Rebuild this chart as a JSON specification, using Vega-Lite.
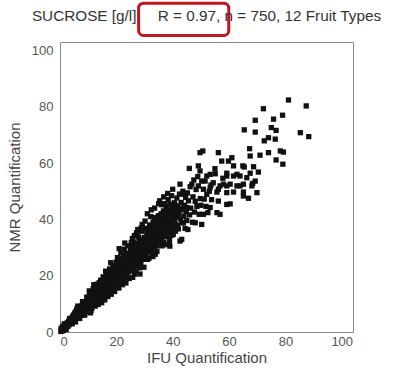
{
  "$schema": "https://vega.github.io/schema/vega-lite/v6.json",
  "autosize": "none",
  "width": 293,
  "height": 290,
  "padding": {"left": 60, "top": 42, "right": 51, "bottom": 44},
  "background": "white",
  "title": {
    "text": "SUCROSE [g/l]\u00a0\u00a0\u00a0\u00a0\u00a0R = 0.97, n = 750, 12 Fruit Types",
    "font": "Liberation Sans",
    "fontSize": 15.3,
    "fontWeight": "normal",
    "color": "#333333",
    "anchor": "middle",
    "baseline": "bottom",
    "offset": -38
  },
  "config": {
    "view": {"stroke": "#8a8a8a", "strokeWidth": 1},
    "axis": {
      "domain": false,
      "ticks": false,
      "grid": false,
      "labelFont": "Liberation Sans",
      "labelFontSize": 13,
      "labelColor": "#555555",
      "titleFont": "Liberation Sans",
      "titleFontSize": 15,
      "titleFontWeight": "normal",
      "titleColor": "#444444"
    }
  },
  "layer": [
    {
      "data": {"values": [
{"x":0.3,"y":0.2},{"x":0.5,"y":0.8},{"x":0.8,"y":0.4},{"x":1.0,"y":1.2},{"x":1.2,"y":0.6},{"x":1.4,"y":1.8},{"x":1.6,"y":1.0},{"x":1.8,"y":2.2},{"x":2.0,"y":1.5},{"x":2.1,"y":2.8},{"x":2.3,"y":1.9},{"x":2.5,"y":2.4},{"x":2.6,"y":3.3},{"x":2.8,"y":2.0},{"x":3.0,"y":3.0},{"x":3.1,"y":3.9},{"x":3.3,"y":2.6},{"x":3.5,"y":3.5},{"x":3.6,"y":4.4},{"x":3.8,"y":3.1},{"x":4.0,"y":4.0},{"x":4.1,"y":4.9},{"x":4.2,"y":3.4},{"x":4.4,"y":4.6},{"x":4.5,"y":5.6},{"x":4.6,"y":3.9},{"x":4.8,"y":5.0},{"x":4.9,"y":6.1},{"x":5.0,"y":4.3},{"x":0.9,"y":2.0},{"x":1.5,"y":2.9},{"x":2.2,"y":0.9},{"x":3.4,"y":4.8},{"x":4.3,"y":2.9},{"x":0.4,"y":1.3},
{"x":5.1,"y":5.4},{"x":5.2,"y":6.6},{"x":5.3,"y":4.5},{"x":5.4,"y":5.9},{"x":5.5,"y":7.2},{"x":5.6,"y":4.9},{"x":5.7,"y":6.3},{"x":5.8,"y":5.5},{"x":5.9,"y":7.6},{"x":6.0,"y":6.0},{"x":6.1,"y":5.1},{"x":6.2,"y":6.9},{"x":6.3,"y":8.0},{"x":6.4,"y":5.7},{"x":6.5,"y":6.5},{"x":6.6,"y":7.4},{"x":6.7,"y":5.3},{"x":6.8,"y":8.6},{"x":6.9,"y":6.2},{"x":7.0,"y":7.0},{"x":7.1,"y":7.9},{"x":7.2,"y":6.0},{"x":7.3,"y":8.4},{"x":7.4,"y":6.8},{"x":7.5,"y":9.1},{"x":7.6,"y":7.5},{"x":7.7,"y":5.9},{"x":7.8,"y":8.0},{"x":7.9,"y":9.5},{"x":8.0,"y":7.2},{"x":8.1,"y":8.5},{"x":8.2,"y":6.6},{"x":8.3,"y":9.8},{"x":8.4,"y":7.9},{"x":8.5,"y":8.8},{"x":8.6,"y":7.0},{"x":8.7,"y":10.2},{"x":8.8,"y":8.3},{"x":8.9,"y":9.4},{"x":9.0,"y":7.6},{"x":9.1,"y":10.6},{"x":9.2,"y":8.7},{"x":9.3,"y":9.9},{"x":9.4,"y":8.0},{"x":9.5,"y":11.0},{"x":9.6,"y":9.2},{"x":9.7,"y":10.3},{"x":9.8,"y":8.4},{"x":9.9,"y":11.4},{"x":10.0,"y":9.6},
{"x":10.1,"y":10.8},{"x":10.2,"y":8.9},{"x":10.3,"y":12.0},{"x":10.4,"y":10.0},{"x":10.5,"y":11.3},{"x":10.6,"y":9.2},{"x":10.7,"y":12.6},{"x":10.8,"y":10.5},{"x":10.9,"y":11.7},{"x":11.0,"y":9.7},{"x":11.1,"y":13.1},{"x":11.2,"y":11.0},{"x":11.3,"y":12.2},{"x":11.4,"y":10.1},{"x":11.5,"y":13.6},{"x":11.6,"y":11.4},{"x":11.7,"y":9.6},{"x":11.8,"y":12.7},{"x":11.9,"y":10.7},{"x":12.0,"y":14.0},{"x":12.1,"y":11.9},{"x":12.2,"y":13.2},{"x":12.3,"y":10.4},{"x":12.4,"y":12.5},{"x":12.5,"y":14.6},{"x":12.6,"y":11.3},{"x":12.7,"y":13.7},{"x":12.8,"y":12.0},{"x":12.9,"y":10.8},{"x":13.0,"y":15.1},{"x":13.1,"y":12.8},{"x":13.2,"y":14.2},{"x":13.3,"y":11.6},{"x":13.4,"y":13.4},{"x":13.5,"y":15.7},{"x":13.6,"y":12.2},{"x":13.7,"y":14.6},{"x":13.8,"y":11.1},{"x":13.9,"y":13.9},{"x":14.0,"y":16.2},{"x":14.1,"y":12.7},{"x":14.2,"y":15.1},{"x":14.3,"y":13.4},{"x":14.4,"y":11.8},{"x":14.5,"y":16.6},{"x":14.6,"y":14.2},{"x":14.7,"y":15.6},{"x":14.8,"y":12.6},{"x":14.9,"y":14.8},{"x":15.0,"y":17.1},{"x":10.5,"y":13.8},{"x":12.2,"y":15.8},{"x":13.9,"y":17.5},{"x":11.3,"y":8.4},{"x":14.0,"y":10.6},
{"x":15.1,"y":13.5},{"x":15.2,"y":15.9},{"x":15.3,"y":14.4},{"x":15.4,"y":17.6},{"x":15.5,"y":12.9},{"x":15.6,"y":16.3},{"x":15.7,"y":14.9},{"x":15.8,"y":18.2},{"x":15.9,"y":13.8},{"x":16.0,"y":16.8},{"x":16.1,"y":15.3},{"x":16.2,"y":18.7},{"x":16.3,"y":14.1},{"x":16.4,"y":17.2},{"x":16.5,"y":19.4},{"x":16.6,"y":15.8},{"x":16.7,"y":13.6},{"x":16.8,"y":17.8},{"x":16.9,"y":16.2},{"x":17.0,"y":19.9},{"x":17.1,"y":14.9},{"x":17.2,"y":18.3},{"x":17.3,"y":16.7},{"x":17.4,"y":20.5},{"x":17.5,"y":15.4},{"x":17.6,"y":18.9},{"x":17.7,"y":17.2},{"x":17.8,"y":14.6},{"x":17.9,"y":21.0},{"x":18.0,"y":19.4},{"x":18.1,"y":16.0},{"x":18.2,"y":17.9},{"x":18.3,"y":21.6},{"x":18.4,"y":15.5},{"x":18.5,"y":19.9},{"x":18.6,"y":18.3},{"x":18.7,"y":22.2},{"x":18.8,"y":16.6},{"x":18.9,"y":20.4},{"x":19.0,"y":18.8},{"x":19.1,"y":15.9},{"x":19.2,"y":22.8},{"x":19.3,"y":17.4},{"x":19.4,"y":21.0},{"x":19.5,"y":19.3},{"x":19.6,"y":23.4},{"x":19.7,"y":17.0},{"x":19.8,"y":21.5},{"x":19.9,"y":19.8},{"x":20.0,"y":16.5},
{"x":20.1,"y":22.1},{"x":20.2,"y":24.0},{"x":20.3,"y":18.3},{"x":20.4,"y":20.4},{"x":20.5,"y":23.0},{"x":20.6,"y":17.4},{"x":20.7,"y":21.6},{"x":20.8,"y":25.0},{"x":20.9,"y":19.2},{"x":21.0,"y":22.6},{"x":21.1,"y":20.8},{"x":21.2,"y":24.4},{"x":21.3,"y":18.0},{"x":21.4,"y":23.3},{"x":21.5,"y":21.3},{"x":21.6,"y":26.0},{"x":21.7,"y":19.6},{"x":21.8,"y":22.8},{"x":21.9,"y":24.9},{"x":22.0,"y":20.5},{"x":22.1,"y":18.7},{"x":22.2,"y":23.8},{"x":22.3,"y":21.9},{"x":22.4,"y":26.6},{"x":22.5,"y":20.0},{"x":22.6,"y":24.5},{"x":22.7,"y":22.4},{"x":22.8,"y":19.1},{"x":22.9,"y":27.3},{"x":23.0,"y":23.1},{"x":23.1,"y":21.0},{"x":23.2,"y":25.6},{"x":23.3,"y":19.8},{"x":23.4,"y":24.1},{"x":23.5,"y":28.0},{"x":23.6,"y":22.2},{"x":23.7,"y":26.2},{"x":23.8,"y":20.6},{"x":23.9,"y":24.8},{"x":24.0,"y":22.9},{"x":24.2,"y":27.5},{"x":24.4,"y":21.4},{"x":24.6,"y":25.9},{"x":24.8,"y":23.6},{"x":25.0,"y":29.0},
{"x":25.1,"y":24.2},{"x":25.2,"y":21.8},{"x":25.4,"y":26.7},{"x":25.5,"y":30.0},{"x":25.6,"y":23.0},{"x":25.8,"y":27.9},{"x":25.9,"y":25.3},{"x":26.0,"y":32.0},{"x":26.1,"y":22.6},{"x":26.3,"y":28.8},{"x":26.4,"y":26.0},{"x":26.6,"y":30.6},{"x":26.7,"y":24.0},{"x":26.9,"y":27.5},{"x":27.0,"y":34.5},{"x":27.1,"y":25.2},{"x":27.3,"y":29.8},{"x":27.4,"y":23.4},{"x":27.6,"y":31.5},{"x":27.7,"y":27.0},{"x":27.9,"y":28.6},{"x":28.0,"y":25.0},{"x":28.1,"y":33.0},{"x":28.3,"y":30.2},{"x":28.4,"y":26.4},{"x":28.6,"y":31.0},{"x":28.7,"y":24.5},{"x":28.9,"y":29.0},{"x":29.0,"y":35.8},{"x":29.1,"y":27.6},{"x":29.3,"y":32.4},{"x":29.4,"y":25.8},{"x":29.6,"y":30.3},{"x":29.7,"y":28.2},{"x":29.9,"y":33.6},{"x":30.0,"y":26.9},{"x":25.7,"y":33.2},{"x":27.2,"y":35.3},{"x":28.8,"y":37.0},{"x":30.0,"y":31.2},{"x":26.5,"y":20.5},{"x":28.2,"y":22.8},
{"x":30.2,"y":39.4},{"x":30.3,"y":29.2},{"x":30.5,"y":33.0},{"x":30.6,"y":27.4},{"x":30.8,"y":35.5},{"x":30.9,"y":31.0},{"x":31.1,"y":28.6},{"x":31.2,"y":36.7},{"x":31.4,"y":32.2},{"x":31.5,"y":30.0},{"x":31.7,"y":34.2},{"x":31.8,"y":38.0},{"x":32.0,"y":29.0},{"x":32.1,"y":33.4},{"x":32.3,"y":31.5},{"x":32.4,"y":36.0},{"x":32.6,"y":28.0},{"x":32.7,"y":34.8},{"x":32.9,"y":32.6},{"x":33.0,"y":39.0},{"x":33.2,"y":30.4},{"x":33.3,"y":35.8},{"x":33.5,"y":33.5},{"x":33.6,"y":29.6},{"x":33.7,"y":40.6},{"x":33.9,"y":37.2},{"x":34.0,"y":31.8},{"x":34.2,"y":34.6},{"x":34.3,"y":38.6},{"x":34.5,"y":30.6},{"x":34.6,"y":36.2},{"x":34.8,"y":33.0},{"x":34.9,"y":41.3},{"x":35.0,"y":35.0},{"x":31.0,"y":25.8},{"x":33.8,"y":27.6},{"x":32.2,"y":41.0},
{"x":35.2,"y":37.8},{"x":35.3,"y":32.0},{"x":35.5,"y":39.8},{"x":35.6,"y":34.2},{"x":35.8,"y":36.4},{"x":35.9,"y":42.0},{"x":36.1,"y":33.0},{"x":36.2,"y":38.4},{"x":36.4,"y":35.6},{"x":36.5,"y":40.8},{"x":36.7,"y":43.0},{"x":36.8,"y":31.8},{"x":37.0,"y":37.4},{"x":37.1,"y":39.4},{"x":37.3,"y":34.6},{"x":37.4,"y":42.2},{"x":37.6,"y":36.2},{"x":37.7,"y":44.6},{"x":37.9,"y":33.8},{"x":38.0,"y":38.8},{"x":38.2,"y":41.0},{"x":38.3,"y":35.4},{"x":38.5,"y":43.4},{"x":38.6,"y":37.0},{"x":38.8,"y":39.8},{"x":38.9,"y":32.8},{"x":39.1,"y":45.4},{"x":39.2,"y":36.4},{"x":39.4,"y":41.8},{"x":39.5,"y":38.2},{"x":39.7,"y":34.4},{"x":39.9,"y":44.2},{"x":40.0,"y":40.0},{"x":36.0,"y":45.2},{"x":38.4,"y":47.0},{"x":40.0,"y":50.7},{"x":39.0,"y":30.5},
{"x":40.2,"y":34.7},{"x":40.3,"y":42.4},{"x":40.5,"y":37.6},{"x":40.6,"y":45.9},{"x":40.8,"y":39.6},{"x":41.0,"y":35.8},{"x":41.1,"y":43.6},{"x":41.3,"y":41.0},{"x":41.5,"y":47.6},{"x":41.7,"y":38.0},{"x":41.8,"y":44.6},{"x":42.0,"y":36.6},{"x":42.2,"y":42.0},{"x":42.4,"y":49.0},{"x":42.6,"y":52.5},{"x":42.6,"y":32.3},{"x":42.8,"y":40.2},{"x":43.0,"y":46.0},{"x":43.2,"y":38.8},{"x":43.2,"y":32.9},{"x":43.4,"y":43.4},{"x":43.6,"y":50.0},{"x":43.8,"y":48.9},{"x":43.8,"y":38.8},{"x":44.0,"y":41.2},{"x":44.2,"y":45.0},{"x":44.4,"y":36.8},{"x":44.6,"y":47.8},{"x":44.8,"y":42.8},{"x":45.0,"y":39.6},
{"x":45.0,"y":44.2},{"x":45.2,"y":49.4},{"x":45.4,"y":36.4},{"x":45.6,"y":46.6},{"x":45.9,"y":58.1},{"x":46.0,"y":41.6},{"x":46.2,"y":51.6},{"x":46.4,"y":44.0},{"x":46.8,"y":52.5},{"x":47.0,"y":39.0},{"x":47.2,"y":48.0},{"x":47.5,"y":54.0},{"x":47.7,"y":42.6},{"x":48.0,"y":38.8},{"x":48.0,"y":46.4},{"x":48.3,"y":50.6},{"x":48.6,"y":44.6},{"x":48.9,"y":55.2},{"x":49.1,"y":51.9},{"x":49.1,"y":59.0},{"x":49.4,"y":41.8},{"x":49.7,"y":57.2},{"x":49.7,"y":63.7},{"x":49.8,"y":47.4},{"x":50.0,"y":45.0},
{"x":50.3,"y":38.2},{"x":50.3,"y":53.6},{"x":50.7,"y":64.3},{"x":50.9,"y":41.8},{"x":50.9,"y":50.7},{"x":51.2,"y":47.2},{"x":51.5,"y":53.6},{"x":51.8,"y":44.6},{"x":52.1,"y":55.4},{"x":52.1,"y":48.9},{"x":52.5,"y":42.4},{"x":53.0,"y":50.0},{"x":53.3,"y":44.2},{"x":53.3,"y":51.3},{"x":53.3,"y":56.0},{"x":53.6,"y":52.2},{"x":53.8,"y":47.0},{"x":54.4,"y":53.0},{"x":55.1,"y":56.2},{"x":55.0,"y":58.0},{"x":55.7,"y":42.4},{"x":55.7,"y":49.7},{"x":56.2,"y":46.5},{"x":56.2,"y":50.7},{"x":56.2,"y":63.7},{"x":56.8,"y":41.8},{"x":56.8,"y":51.9},{"x":57.4,"y":60.7},{"x":57.8,"y":54.6},{"x":58.0,"y":52.5},{"x":59.2,"y":45.3},{"x":59.2,"y":49.5},{"x":59.2,"y":51.9},{"x":59.2,"y":55.4},{"x":59.2,"y":56.4},{"x":59.8,"y":60.7},{"x":60.4,"y":45.5},{"x":60.4,"y":52.5},
{"x":61.0,"y":61.9},{"x":61.6,"y":59.0},{"x":61.6,"y":55.4},{"x":61.6,"y":49.7},{"x":62.8,"y":51.9},{"x":62.8,"y":56.0},{"x":63.9,"y":55.4},{"x":63.9,"y":51.9},{"x":64.9,"y":59.0},{"x":65.1,"y":52.5},{"x":65.4,"y":58.6},{"x":65.1,"y":49.7},{"x":65.1,"y":48.3},{"x":65.4,"y":71.8},{"x":66.3,"y":54.8},{"x":66.9,"y":47.5},{"x":67.3,"y":65.1},{"x":67.5,"y":62.5},{"x":67.5,"y":56.4},{"x":68.1,"y":51.9},{"x":68.4,"y":52.8},{"x":68.7,"y":58.7},{"x":69.3,"y":75.2},{"x":69.3,"y":71.0},{"x":69.3,"y":53.6},{"x":69.9,"y":49.5},{"x":70.4,"y":56.8},{"x":71.0,"y":62.8},{"x":72.2,"y":79.3},{"x":72.5,"y":67.9},{"x":74.0,"y":69.0},{"x":74.0,"y":63.7},{"x":75.0,"y":72.6},{"x":75.8,"y":75.6},{"x":76.4,"y":68.5},{"x":76.7,"y":71.6},{"x":76.7,"y":61.1},{"x":78.2,"y":64.3},{"x":79.0,"y":77.0},{"x":79.3,"y":63.9},{"x":79.1,"y":59.6},{"x":81.1,"y":82.4},{"x":85.3,"y":70.8},{"x":87.4,"y":80.3},{"x":88.3,"y":69.4},
{"x":5.5,"y":3.6},{"x":6.3,"y":9.2},{"x":7.0,"y":4.8},{"x":8.0,"y":10.8},{"x":8.8,"y":6.0},{"x":9.5,"y":12.4},{"x":9.9,"y":7.2},{"x":6.0,"y":8.2},
{"x":10.4,"y":14.6},{"x":11.0,"y":7.6},{"x":11.8,"y":15.4},{"x":12.5,"y":9.2},{"x":13.2,"y":17.0},{"x":13.6,"y":9.8},{"x":14.4,"y":18.4},{"x":14.8,"y":10.4},{"x":12.0,"y":16.8},{"x":10.8,"y":6.8},
{"x":15.3,"y":19.6},{"x":15.9,"y":11.4},{"x":16.6,"y":20.8},{"x":17.0,"y":12.6},{"x":17.6,"y":22.4},{"x":18.2,"y":13.4},{"x":18.8,"y":23.6},{"x":19.4,"y":14.4},{"x":19.9,"y":24.8},{"x":16.2,"y":21.6},{"x":18.0,"y":24.6},
{"x":20.4,"y":26.4},{"x":20.9,"y":15.6},{"x":21.6,"y":28.2},{"x":22.2,"y":16.8},{"x":22.8,"y":29.4},{"x":23.4,"y":17.4},{"x":24.0,"y":30.6},{"x":24.6,"y":19.0},{"x":24.9,"y":27.2},{"x":21.0,"y":29.6},{"x":23.0,"y":31.6},
{"x":25.3,"y":31.8},{"x":25.8,"y":19.4},{"x":26.4,"y":34.2},{"x":27.0,"y":21.4},{"x":27.6,"y":36.4},{"x":28.4,"y":20.6},{"x":29.2,"y":38.2},{"x":29.8,"y":23.0},{"x":26.0,"y":28.6},{"x":27.8,"y":33.8},
{"x":30.4,"y":36.8},{"x":31.0,"y":42.0},{"x":31.6,"y":26.2},{"x":32.4,"y":43.4},{"x":33.0,"y":26.8},{"x":33.6,"y":44.0},{"x":34.4,"y":28.6},{"x":35.0,"y":45.6},{"x":30.8,"y":32.6},{"x":32.8,"y":37.4},{"x":34.0,"y":40.4},
{"x":35.4,"y":46.6},{"x":36.2,"y":30.6},{"x":36.8,"y":48.0},{"x":37.6,"y":31.0},{"x":38.2,"y":49.2},{"x":38.8,"y":31.6},{"x":39.6,"y":48.4},{"x":35.8,"y":40.0},{"x":37.2,"y":45.6},{"x":39.0,"y":42.6},
{"x":2.7,"y":2.7},{"x":3.9,"y":3.7},{"x":5.0,"y":5.2},{"x":5.9,"y":6.6},{"x":6.9,"y":7.2},{"x":7.6,"y":8.7},{"x":8.4,"y":9.0},{"x":9.2,"y":9.6},{"x":9.8,"y":10.4},
{"x":10.6,"y":11.2},{"x":11.4,"y":12.0},{"x":12.2,"y":12.8},{"x":13.0,"y":13.6},{"x":13.8,"y":14.4},{"x":14.6,"y":15.2},{"x":15.4,"y":16.0},{"x":16.2,"y":16.8},{"x":17.0,"y":17.6},{"x":17.8,"y":18.4},{"x":18.6,"y":19.2},{"x":19.4,"y":20.0},{"x":11.0,"y":12.8},{"x":13.4,"y":15.4},{"x":15.8,"y":17.6},{"x":18.2,"y":20.4},{"x":12.0,"y":11.0},{"x":14.6,"y":13.0},{"x":17.0,"y":15.6},{"x":19.6,"y":18.0},
{"x":20.4,"y":21.2},{"x":21.2,"y":22.0},{"x":22.0,"y":22.8},{"x":22.8,"y":23.6},{"x":23.6,"y":24.4},{"x":24.4,"y":25.2},{"x":25.2,"y":26.0},{"x":26.0,"y":26.8},{"x":26.8,"y":27.6},{"x":27.6,"y":28.4},{"x":28.4,"y":29.2},{"x":29.2,"y":30.0},{"x":21.0,"y":24.0},{"x":23.0,"y":26.4},{"x":25.0,"y":28.0},{"x":27.0,"y":30.4},{"x":29.0,"y":32.2},{"x":22.0,"y":20.0},{"x":24.2,"y":22.4},{"x":26.6,"y":25.0},{"x":28.8,"y":26.8},
{"x":30.4,"y":31.0},{"x":31.2,"y":32.0},{"x":32.0,"y":32.8},{"x":32.8,"y":33.8},{"x":33.6,"y":34.6},{"x":34.4,"y":35.4},{"x":35.2,"y":36.2},{"x":36.0,"y":37.0},{"x":36.8,"y":37.8},{"x":37.6,"y":38.6},{"x":38.4,"y":39.4},{"x":39.2,"y":40.2},{"x":40.0,"y":41.0},{"x":41.0,"y":41.8},{"x":42.0,"y":42.8},{"x":43.0,"y":43.8},{"x":44.0,"y":44.6},{"x":31.0,"y":34.4},{"x":33.0,"y":36.6},{"x":35.0,"y":38.6},{"x":37.0,"y":40.8},{"x":39.0,"y":43.0},{"x":41.0,"y":45.0},{"x":32.0,"y":30.2},{"x":34.2,"y":32.4},{"x":36.4,"y":34.0},{"x":38.6,"y":35.8},{"x":40.8,"y":37.6}
      ]},
      "mark": {"type": "square", "size": 28, "filled": true, "color": "#111111", "opacity": 1},
      "encoding": {
        "x": {"field": "x", "type": "quantitative", "title": "IFU Quantification",
              "scale": {"domain": [0, 104], "nice": false, "zero": false},
              "axis": {"values": [0, 20, 40, 60, 80, 100], "labelPadding": 3, "titlePadding": 2}},
        "y": {"field": "y", "type": "quantitative", "title": "NMR Quantification",
              "scale": {"domain": [0, 103], "nice": false, "zero": false},
              "axis": {"values": [0, 20, 40, 60, 80, 100], "labelPadding": 7, "titlePadding": 9}}
      }
    },
    {
      "data": {"values": [{"x1": 27.9, "x2": 59.9, "y1": 105.3, "y2": 116.8}]},
      "mark": {"type": "rect", "fill": null, "filled": false, "stroke": "#c0171e", "strokeWidth": 3, "cornerRadius": 5, "clip": false},
      "encoding": {
        "x": {"field": "x1", "type": "quantitative", "title": "IFU Quantification"},
        "x2": {"field": "x2"},
        "y": {"field": "y1", "type": "quantitative", "title": "NMR Quantification"},
        "y2": {"field": "y2"}
      }
    }
  ]
}
